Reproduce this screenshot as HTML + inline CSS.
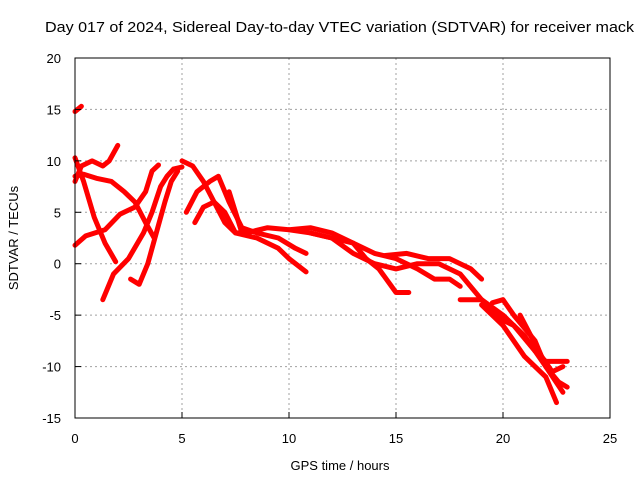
<!DOCTYPE html>
<html><head><meta charset="utf-8"><style>
body{margin:0;background:#fff}
svg text{font-family:"Liberation Sans",sans-serif;font-size:13px;fill:#000}
</style></head><body>
<svg id="chart" width="640" height="480">
<rect width="640" height="480" fill="#fff"/>
<text x="45" y="32" textLength="589" lengthAdjust="spacingAndGlyphs" style="font-size:15px">Day 017 of 2024, Sidereal Day-to-day VTEC variation (SDTVAR) for receiver mack</text>
<g id="grid"></g><g id="series"></g><g id="axes"></g>
<text x="340" y="470" text-anchor="middle">GPS time / hours</text>
<text transform="translate(18,238) rotate(-90)" text-anchor="middle">SDTVAR / TECUs</text>
</svg>
<script>
const xTicks=[0,5,10,15,20,25];
const yTicks=[-15,-10,-5,0,5,10,15,20];
const s1t=[0,0.3], s1v=[14.8,15.3];
const s2t=[0,0.4,1,1.7,2.3,2.8,3.3,3.7], s2v=[8.5,8.7,8.3,8,7,6,4,2.5];
const s3t=[0,0.4,0.9,1.4,1.9], s3v=[10.3,8,4.5,2,0.2];
const s4t=[0,0.3,0.8,1.3,1.6,2], s4v=[8,9.5,10,9.5,10,11.5];
const s5t=[0,0.5,1.4,2.1,2.8,3.3,3.6,3.9], s5v=[1.8,2.7,3.3,4.8,5.5,7,9,9.6];
const s6t=[1.3,1.8,2.5,3.2,3.6,4,4.3,4.6,5], s6v=[-3.5,-1,0.5,3,5,7.5,8.5,9.2,9.4];
const s7t=[2.6,3,3.4,3.8,4.2,4.5,4.8], s7v=[-1.5,-2,0,3,6,8,9];
const s8t=[5,5.5,6,6.5,7,7.5,8,9,10,11,12,13,14,15,16,17,18,19,20,21,22,22.8], s8v=[10,9.5,8,6,4,3,3,3.5,3.3,3,2.5,1,0,-0.5,0,0,-1,-3.5,-5,-7,-10,-12.5];
const s9t=[5.2,5.7,6.3,6.7,7.2,7.8,8.5,9.5,10.3,10.8], s9v=[5,7,8,8.5,6,3.5,3,2.5,1.5,1];
const s10t=[5.6,6,6.5,7,7.5,8.5,9.5,10,10.8], s10v=[4,5.5,6,5,3,2.5,1.5,0.5,-0.8];
const s11t=[7.2,7.5,7.8], s11v=[7,5,3];
const s12t=[10,11,12,13,13.6,14.2,15,15.6], s12v=[3.3,3.5,3,2,0.5,-0.5,-2.8,-2.8];
const s13t=[11,12,13,14,15,16,16.8,17.5,18], s13v=[3,2.5,2,1,0.5,-0.5,-1.5,-1.5,-2.2];
const s14t=[14.5,15.5,16.5,17.5,18.5,19], s14v=[0.8,1,0.5,0.5,-0.5,-1.5];
const s15t=[18,19,20,20.5,21.5,22,23], s15v=[-3.5,-3.5,-5.5,-6,-8.5,-9.5,-9.5];
const s16t=[19.5,20,20.5,21.5,22,22.6,23], s16v=[-3.8,-3.5,-5,-7.5,-10,-11.5,-12];
const s17t=[19,20,21,22,22.5], s17v=[-4,-6,-9,-11,-13.5];
const s18t=[20.8,21.3,21.8,22.3,22.8], s18v=[-5,-7,-9,-10.5,-10];
const series=[[s1t,s1v],[s2t,s2v],[s3t,s3v],[s4t,s4v],[s5t,s5v],[s6t,s6v],[s7t,s7v],[s8t,s8v],[s9t,s9v],[s10t,s10v],[s11t,s11v],[s12t,s12v],[s13t,s13v],[s14t,s14v],[s15t,s15v],[s16t,s16v],[s17t,s17v],[s18t,s18v]];
const L=75,R=610,T=58,B=418;
function X(h){return L+(h-0)/25*(R-L);}
function Y(v){return B-(v+15)/35*(B-T);}
const NS="http://www.w3.org/2000/svg";
function mk(t,a,p){const e=document.createElementNS(NS,t);for(const k in a)e.setAttribute(k,a[k]);p.appendChild(e);return e;}
const grid=document.getElementById('grid'),axes=document.getElementById('axes'),ser=document.getElementById('series');
xTicks.forEach(t=>{
  if(t>0&&t<25){const g=mk('line',{x1:X(t),x2:X(t),y1:T,y2:B,stroke:'#a0a0a0','stroke-dasharray':'2,3'},grid);
  
  }
  const tk=mk('line',{x1:X(t),x2:X(t),y1:B,y2:B-6,stroke:'#000'},axes);
  
  
  const lb=mk('text',{x:X(t),y:B+25,'text-anchor':'middle'},axes);lb.textContent=t;
  
  
});
yTicks.forEach(t=>{
  if(t>-15&&t<20){const g=mk('line',{x1:L,x2:R,y1:Y(t),y2:Y(t),stroke:'#a0a0a0','stroke-dasharray':'2,3'},grid);
  
  }
  const tk=mk('line',{x1:L,x2:L+6,y1:Y(t),y2:Y(t),stroke:'#000'},axes);
  
  
  const lb=mk('text',{x:L-14,y:Y(t)+5,'text-anchor':'end'},axes);lb.textContent=t;
  
  
});
const fr=mk('rect',{x:L,y:T,width:R-L,height:B-T,fill:'none',stroke:'#000'},axes);


series.forEach((s,i)=>{
  const pts=s[0].map((t,j)=>X(t).toFixed(1)+','+Y(s[1][j]).toFixed(1)).join(' ');
  const p=mk('polyline',{points:pts,fill:'none',stroke:'#ff0000','stroke-width':5,'stroke-linejoin':'round','stroke-linecap':'round'},ser);
  
  
});
</script>
</body></html>
